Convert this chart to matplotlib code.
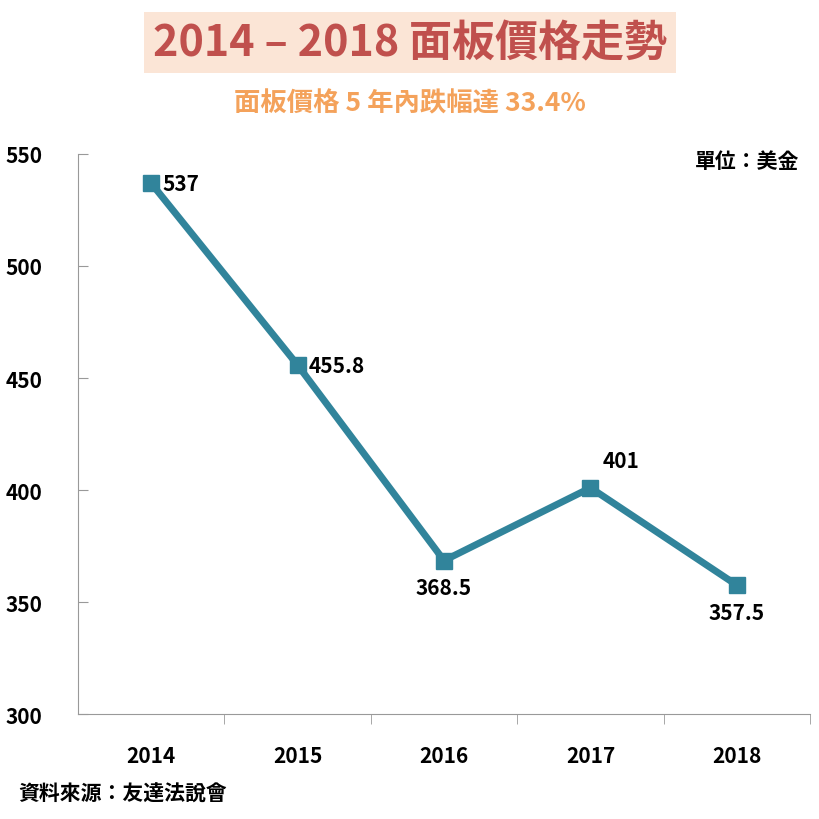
import matplotlib
matplotlib.use("Agg")
import matplotlib.pyplot as plt
from matplotlib.ticker import FixedLocator

years = ["2014", "2015", "2016", "2017", "2018"]
prices = [537, 455.8, 368.5, 401, 357.5]
labels = ["537", "455.8", "368.5", "401", "357.5"]
yticks = [300, 350, 400, 450, 500, 550]

plt.rcParams["font.family"] = ["Noto Sans CJK JP", "Noto Sans CJK TC", "DejaVu Sans"]
fig = plt.figure(figsize=(8.2, 8.2), dpi=100)
ax = fig.add_axes([0.095, 0.128, 0.893, 0.683])
x = list(range(len(years)))
color = "#31849b"
ax.plot(x, prices, color=color, lw=5, marker="s", ms=11, zorder=3)
offsets = [(8, 0, "left", "center"), (8, 0, "left", "center"), (0, -12, "center", "top"),
           (22, 12, "center", "bottom"), (0, -12, "center", "top")]
for xi, v, lab, (dx, dy, ha, va) in zip(x, prices, labels, offsets):
    ax.annotate(lab, (xi, v), xytext=(dx, dy), textcoords="offset points", ha=ha, va=va,
                fontsize=15, fontweight="bold", color="black")
ax.set_xlim(-0.5, 4.5)
ax.set_ylim(300, 550)
ax.set_yticks(yticks)
ax.set_xticks(x)
ax.set_xticklabels(years)
ax.xaxis.set_minor_locator(FixedLocator([0.5, 1.5, 2.5, 3.5, 4.5]))
ax.tick_params(axis="x", which="major", length=0, pad=22)
ax.tick_params(axis="x", which="minor", length=7, direction="out", color="#999999")
ax.tick_params(axis="y", length=7, direction="in", color="#999999", pad=52)
for t in ax.get_xticklabels() + ax.get_yticklabels():
    t.set_fontsize(15); t.set_fontweight("bold")
for t in ax.get_yticklabels():
    t.set_horizontalalignment("left")
ax.spines["top"].set_visible(False)
ax.spines["right"].set_visible(False)
ax.spines["left"].set_color("#999999")
ax.spines["bottom"].set_color("#999999")

fig.text(0.5, 0.947, "2014 – 2018 面板價格走勢", ha="center", va="center", fontsize=31,
         fontweight="bold", color="#c0504d",
         bbox=dict(boxstyle="square,pad=0.2", fc="#fbe5d6", ec="none"))
fig.text(0.5, 0.873, "面板價格 5 年內跌幅達 33.4%", ha="center", va="center", fontsize=19,
         fontweight="bold", color="#f4a25b")
fig.text(0.975, 0.803, "單位：美金", ha="right", va="center", fontsize=15, fontweight="bold")
fig.text(0.022, 0.032, "資料來源：友達法說會", ha="left", va="center", fontsize=15, fontweight="bold")
fig.savefig("out.png", dpi=100)
